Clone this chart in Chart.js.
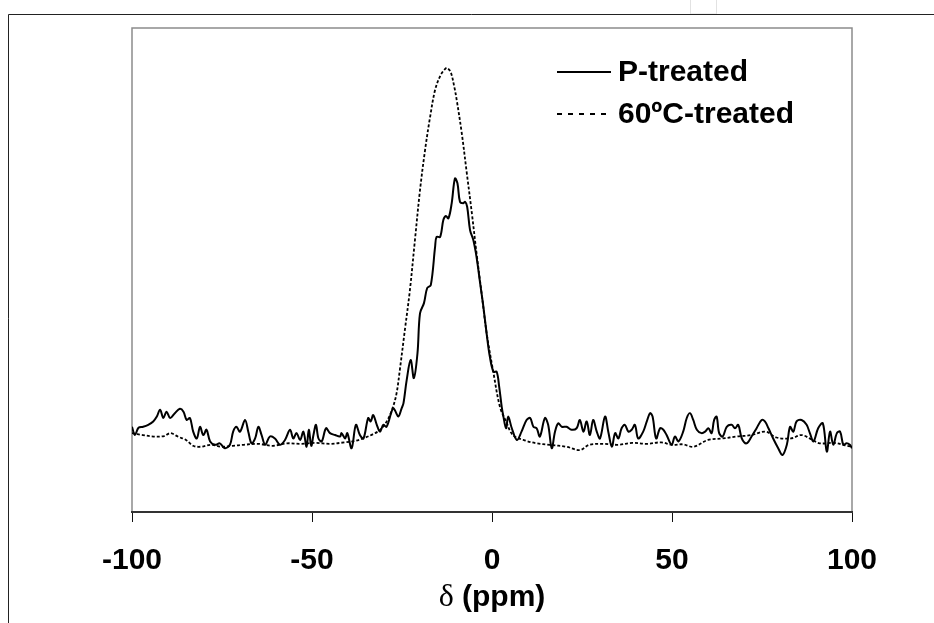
<!DOCTYPE html>
<html>
<head>
<meta charset="utf-8">
<script src="https://cdn.jsdelivr.net/npm/chart.js@4.4.1/dist/chart.umd.min.js"></script>
<style>
  html, body { margin: 0; padding: 0; background: #fff; }
  canvas { display: block; }
</style>
</head>
<body>
<canvas id="nmr" width="934" height="623"></canvas>
<script>
// chemical shift (ppm) and intensity for each spectrum
const seriesNames = ['P-treated', '60ºC-treated'];
const xTicks = [-100, -50, 0, 50, 100];
const axisTitle = ['δ', ' (ppm)'];

const pShift = [-100, -99.2, -98.2, -96.9, -95.5, -94.1, -93.1, -92.2, -91.3, -90.4, -89.4, -88.1, -86.7, -85.7, -84.8, -83.9, -83, -82, -81.1, -80.2,
    -79.3, -78.3, -76.9, -75.6, -74.2, -72.8, -71.9, -71, -70, -68.6, -67.7, -66.8, -65.8, -64.9, -64, -63, -61.7, -60.3, -58.9, -57.5,
    -56.1, -55.2, -54.3, -53.3, -52.4, -51.5, -50.9, -50.2, -49.6, -48.9, -48.2, -47.3, -46.1, -45, -43.6, -42.2, -41.8, -40.8, -40.2, -39,
    -37.8, -36.7, -35.7, -34.4, -33.7, -33, -32, -31.1, -30.2, -29.3, -27.9, -27.4, -26.9, -26, -25.1, -24.6, -23.7, -22.6, -21.7, -20.7,
    -20, -18.9, -18, -17, -15.8, -15.4, -14.4, -13.5, -12.8, -12.1, -11.2, -10.3, -9.6, -8.9, -8, -7.5, -6.9, -6.1, -5.2, -4.3,
    -3.3, -2.4, -1.5, -0.6, 0.4, 1.3, 2, 2.7, 3.1, 3.9, 4.5, 5.5, 6.9, 8.2, 9.6, 10.6, 11.5, 12.4, 13.3, 14.7,
    15.6, 16.6, 17.5, 18.4, 19.4, 20.7, 22.1, 23.5, 24.4, 25.4, 26.3, 27.2, 28.1, 29.1, 30, 31.4, 32.3, 33.3, 34.2, 35.1,
    36, 36.9, 37.9, 38.8, 39.7, 40.6, 42, 43, 43.9, 44.6, 45.6, 46.7, 47.6, 48.5, 49.9, 50.8, 51.8, 53.1, 54.1, 55,
    55.9, 56.9, 58.2, 59.2, 60.1, 61, 61.7, 62.4, 63.1, 64.1, 65.2, 66.6, 67.5, 68.4, 69.4, 70.7, 72.1, 73.5, 74.9, 75.8,
    76.8, 78.1, 79.5, 80.7, 81.9, 82.8, 83.7, 84.6, 86, 87.4, 88.3, 89.3, 90.6, 91.9, 93, 93.9, 94.8, 95.8, 96.7, 97.6,
    98.5, 99.4, 100];
const pValue = [18.1, 16.4, 17.9, 18.1, 18.5, 19.2, 20.2, 21.6, 19.9, 21.2, 19.9, 20.9, 21.8, 21.2, 19.5, 19.9, 17.1, 15.7, 18.1, 16.4,
    17.5, 15.1, 14.4, 14.7, 13.7, 14.4, 17.1, 18.1, 17.1, 19.5, 17.1, 14.7, 15.7, 18.1, 16.4, 14.4, 16.1, 15.7, 14.4, 15.4,
    17.5, 15.7, 16.8, 15.4, 17.1, 14.0, 17.5, 14.2, 16.4, 18.5, 15.7, 15.1, 17.8, 16.8, 16.4, 16.1, 16.8, 15.7, 16.8, 13.7,
    18.5, 16.4, 15.7, 19.9, 19.2, 20.5, 18.5, 17.1, 18.5, 18.1, 21.2, 21.9, 21.4, 20.2, 21.9, 22.9, 27.7, 31.8, 28.1, 33.2,
    41.4, 43.5, 46.6, 47.2, 55.1, 57.1, 57.1, 60.6, 61.4, 60.9, 64.0, 69.1, 68.1, 64.3, 64.0, 64.3, 63.3, 58.5, 56.5, 53.0,
    47.6, 42.8, 37.3, 32.5, 29.4, 29.4, 26.3, 22.2, 20.5, 17.8, 20.2, 17.8, 15.4, 17.1, 19.5, 19.9, 18.1, 17.8, 16.1, 19.9,
    18.5, 13.7, 17.1, 18.8, 18.1, 18.1, 17.5, 17.8, 19.5, 17.1, 19.2, 16.4, 19.5, 17.1, 15.7, 20.2, 17.1, 14.0, 16.8, 15.7,
    17.8, 18.5, 17.1, 17.5, 18.5, 15.7, 17.1, 19.2, 20.9, 20.2, 15.7, 17.8, 17.5, 16.4, 14.4, 16.1, 15.1, 17.1, 19.9, 20.9,
    19.5, 17.5, 16.8, 17.1, 17.8, 16.8, 19.5, 20.2, 16.8, 16.1, 18.1, 18.5, 17.8, 18.5, 15.7, 14.7, 16.1, 17.8, 19.5, 19.2,
    17.8, 15.7, 13.7, 12.3, 14.4, 18.1, 17.1, 19.2, 19.5, 18.5, 16.8, 15.1, 17.8, 18.8, 13.0, 17.1, 14.4, 16.8, 17.1, 14.4,
    14.7, 14.4, 13.7];

const hShift = [-100, -97, -94, -91, -89.4, -87, -85, -83, -81, -78, -75, -72, -69, -65, -61, -57, -53, -49, -45, -41,
    -38, -35.5, -33, -31, -29, -27.5, -26.5, -25.6, -24.2, -22.8, -21.4, -20, -18.6, -17.2, -15.8, -14.3, -13, -12.5, -11.5, -10.5,
    -9.8, -8.4, -7, -5.6, -4.3, -2.9, -1.5, 0.4, 2.2, 3.9, 5.8, 8.7, 12.4, 16, 20.7, 24.4, 27, 31, 35, 39,
    43, 47, 50, 53, 56, 60, 64, 68, 72, 76, 79, 83, 86, 89, 91, 95, 98, 100];
const hValue = [16.8, 16.4, 16.1, 16.2, 16.8, 16.0, 15.4, 14.2, 14.0, 14.4, 14.0, 14.2, 14.4, 14.6, 14.2, 14.7, 14.6, 14.8, 14.6, 14.9,
    15.2, 15.8, 16.6, 17.5, 19.5, 22.2, 25.0, 29.8, 38.0, 46.2, 56.5, 66.7, 74.9, 81.7, 87.3, 90.3, 91.6, 91.8, 91.0, 88.0,
    85.2, 78.4, 70.2, 62.0, 53.8, 45.6, 37.4, 29.2, 22.2, 19.2, 16.4, 15.4, 14.7, 14.4, 14.0, 13.3, 14.4, 14.6, 14.4, 14.8,
    14.6, 14.9, 14.4, 14.5, 14.0, 15.4, 15.7, 16.1, 16.4, 17.1, 15.9, 15.7, 16.4, 15.4, 14.7, 14.8, 14.3, 14.0];

const toPoints = (xs, ys) => xs.map((x, i) => ({ x: x, y: ys[i] }));
const sansBold = '"Liberation Sans", Arial, sans-serif';

// page frame, plot box, legend and axis title
const framePlugin = {
    id: 'frame',
    beforeDraw(chart) {
        const c = chart.ctx;
        c.save();
        c.fillStyle = '#fff';
        c.fillRect(0, 0, chart.width, chart.height);
        c.strokeStyle = '#e2e2e2';
        c.lineWidth = 1;
        c.strokeRect(690.5, -1, 26, 15);
        c.strokeStyle = '#222';
        c.beginPath();
        c.moveTo(8.5, chart.height);
        c.lineTo(8.5, 14.5);
        c.lineTo(chart.width, 14.5);
        c.stroke();
        const a = chart.chartArea;
        c.strokeStyle = '#8c8c8c';
        c.lineWidth = 1.5;
        c.beginPath();
        c.moveTo(a.left, a.bottom);
        c.lineTo(a.left, a.top);
        c.lineTo(a.right, a.top);
        c.lineTo(a.right, a.bottom);
        c.stroke();
        c.restore();
    },
    afterDraw(chart) {
        const c = chart.ctx;
        c.save();
        c.font = 'bold 30px ' + sansBold;
        c.textBaseline = 'middle';
        c.fillStyle = '#000';
        chart.data.datasets.forEach((ds, i) => {
            const y = 72 + i * 42;
            c.strokeStyle = ds.borderColor;
            c.lineWidth = ds.borderWidth;
            c.setLineDash(ds.borderDash ? [5, 6] : []);
            c.beginPath();
            c.moveTo(557, y);
            c.lineTo(611, y);
            c.stroke();
            c.fillText(ds.label, 618, y + 1);
        });

        // axis title: serif delta, bold sans unit
        c.textBaseline = 'alphabetic';
        const fDelta = '32px "Liberation Serif", "Times New Roman", serif';
        const fUnit = 'bold 30px ' + sansBold;
        c.font = fDelta;
        const w1 = c.measureText(axisTitle[0]).width;
        c.font = fUnit;
        const w2 = c.measureText(axisTitle[1]).width;
        const a = chart.chartArea;
        let x = (a.left + a.right) / 2 - (w1 + w2) / 2;
        c.font = fDelta;
        c.fillText(axisTitle[0], x, 606);
        c.font = fUnit;
        c.fillText(axisTitle[1], x + w1, 606);
        c.restore();
    }
};

new Chart(document.getElementById('nmr'), {
    type: 'line',
    data: {
        datasets: [{
            label: seriesNames[0],
            data: toPoints(pShift, pValue),
            borderColor: '#000',
            borderWidth: 2,
            tension: 0.35,
            pointRadius: 0,
            fill: false
        }, {
            label: seriesNames[1],
            data: toPoints(hShift, hValue),
            borderColor: '#000',
            borderWidth: 1.8,
            borderDash: [3, 2],
            tension: 0.35,
            pointRadius: 0,
            fill: false
        }]
    },
    options: {
        responsive: false,
        animation: false,
        devicePixelRatio: 1,
        layout: { padding: { left: 132, right: 82, top: 28, bottom: 0 } },
        plugins: {
            legend: { display: false },
            tooltip: { enabled: false }
        },
        scales: {
            x: {
                type: 'linear',
                min: -100,
                max: 100,
                afterBuildTicks: scale => { scale.ticks = xTicks.map(v => ({ value: v })); },
                afterFit: scale => { scale.height = 111; },
                grid: { drawOnChartArea: false, tickLength: 10, color: '#111', lineWidth: 1 },
                border: { color: '#333', width: 2 },
                ticks: {
                    color: '#000',
                    padding: 21,
                    maxRotation: 0,
                    font: { family: sansBold, size: 30, weight: 'bold' }
                }
            },
            y: {
                min: 0.6,
                max: 100,
                afterFit: scale => { scale.width = 0; },
                grid: { display: false },
                border: { display: false },
                ticks: { display: false }
            }
        }
    },
    plugins: [framePlugin]
});
</script>
</body>
</html>
